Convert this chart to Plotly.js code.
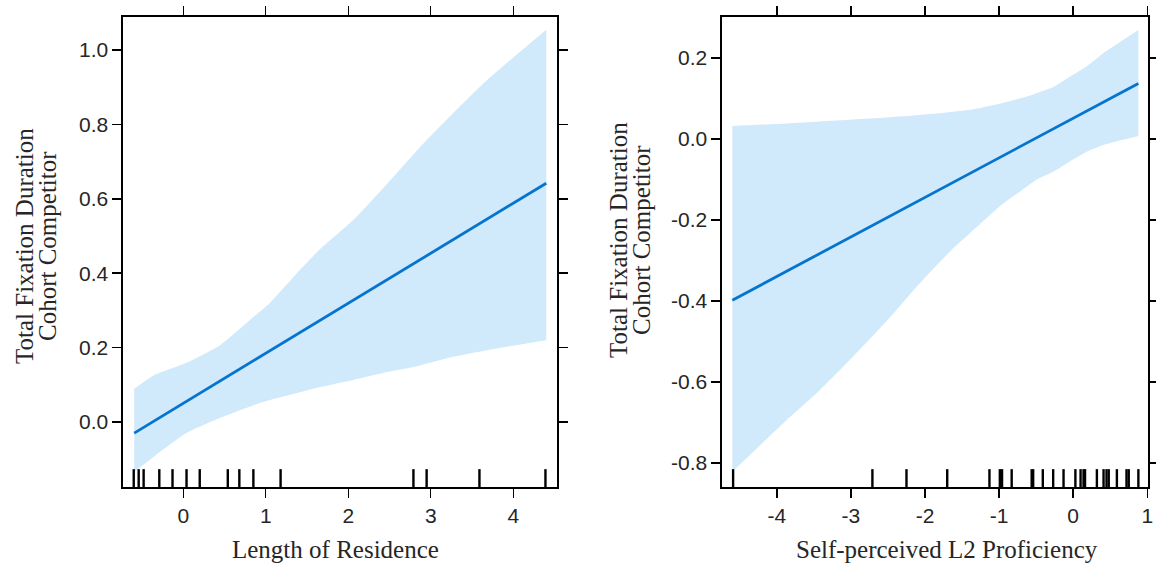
<!DOCTYPE html>
<html>
<head>
<meta charset="utf-8">
<script src="https://cdn.plot.ly/plotly-3.0.1.min.js"></script>
<style>html,body{margin:0;padding:0;background:#fff;}#chart{width:1156px;height:566px;}</style>
</head>
<body>
<div id="chart"></div>
<script>
// ---- Left panel: Length of Residence ----
const lorBandX     = [-0.594, -0.36, 0.04, 0.45, 0.85, 1.05, 1.45, 1.66, 2.06, 2.47, 2.87, 3.27, 3.68, 4.40];
const lorUpper     = [0.089, 0.125, 0.159, 0.207, 0.282, 0.32, 0.417, 0.465, 0.543, 0.64, 0.739, 0.83, 0.919, 1.055];
const lorLower     = [-0.134, -0.094, -0.03, 0.011, 0.045, 0.059, 0.082, 0.094, 0.113, 0.134, 0.152, 0.175, 0.193, 0.220];
const lorFitX      = [-0.594, 4.40];
const lorFit       = [-0.030, 0.642];
const lorRug       = [-0.60, -0.54, -0.48, -0.29, -0.13, 0.04, 0.20, 0.54, 0.68, 0.85, 1.18, 2.79, 2.95, 3.59, 4.39];
const lorTicksY    = [0.0, 0.2, 0.4, 0.6, 0.8, 1.0];
const lorTicksX    = [0, 1, 2, 3, 4];

// ---- Right panel: Self-perceived L2 Proficiency ----
const profBandX    = [-4.60, -3.87, -3.42, -2.97, -2.52, -2.07, -1.62, -1.39, -0.95, -0.72, -0.49, -0.27, -0.04, 0.19, 0.41, 0.88];
const profUpper    = [0.032, 0.038, 0.043, 0.048, 0.053, 0.059, 0.067, 0.072, 0.089, 0.100, 0.113, 0.128, 0.154, 0.180, 0.212, 0.269];
const profLower    = [-0.821, -0.694, -0.62, -0.537, -0.45, -0.356, -0.27, -0.232, -0.16, -0.130, -0.10, -0.081, -0.055, -0.031, -0.015, 0.007];
const profFitX     = [-4.60, 0.88];
const profFit      = [-0.398, 0.137];
const profRug      = [-4.59, -2.71, -2.25, -1.70, -1.13, -0.99, -0.96, -0.83, -0.56, -0.54, -0.41, -0.27, -0.13, 0.03, 0.10, 0.14, 0.16, 0.32, 0.41, 0.45, 0.48, 0.59, 0.72, 0.75, 0.88];
const profTicksY   = [-0.8, -0.6, -0.4, -0.2, 0.0, 0.2];
const profTicksX   = [-4, -3, -2, -1, 0, 1];

const yTitleLines = ['Total Fixation Duration', 'Cohort Competitor'];
const xTitleLeft = 'Length of Residence';
const xTitleRight = 'Self-perceived L2 Proficiency';

const bandColor = 'rgb(208,233,251)';
const lineColor = 'rgb(5,116,206)';

function band(xs, up, lo, xa, ya) {
  const base = {x: xs, xaxis: xa, yaxis: ya, type: 'scatter', mode: 'lines',
    hoverinfo: 'skip', showlegend: false};
  return [
    Object.assign({}, base, {y: lo, line: {width: 0, color: bandColor, shape: 'spline', smoothing: 0.6}}),
    Object.assign({}, base, {y: up, fill: 'tonexty', fillcolor: bandColor,
      line: {width: 0, color: bandColor, shape: 'spline', smoothing: 0.6}})
  ];
}
function fit(xs, ys, xa, ya) {
  return {x: xs, y: ys, xaxis: xa, yaxis: ya, type: 'scatter', mode: 'lines',
    line: {color: lineColor, width: 2.8}, showlegend: false};
}
function rugShapes(vals, xref, yref) {
  return vals.map(v => ({type: 'line', xref: xref, yref: yref + ' domain',
    x0: v, x1: v, y0: 0, y1: 0.038, line: {color: '#000', width: 2.4}}));
}

const tickFont = {family: 'Liberation Sans, Arial, sans-serif', size: 21, color: '#262626'};
const titleFont = {family: 'Liberation Serif, Times New Roman, serif', size: 25, color: '#262626'};

function xAxis(domain, range, ticks, anchor) {
  return {domain: domain, range: range, anchor: anchor, tickvals: ticks, ticktext: ticks.map(String),
    ticks: 'outside', ticklen: 9, tickwidth: 1.4, tickcolor: '#000', mirror: 'ticks',
    showline: true, linecolor: '#000', linewidth: 1.6, showgrid: false, zeroline: false,
    tickfont: tickFont};
}
function yAxis(domain, range, ticks, anchor) {
  return {domain: domain, range: range, anchor: anchor, tickvals: ticks, ticktext: ticks.map(v => v.toFixed(1)),
    ticks: 'outside', ticklen: 9, tickwidth: 1.4, tickcolor: '#000', mirror: 'ticks',
    showline: true, linecolor: '#000', linewidth: 1.6, showgrid: false, zeroline: false,
    tickfont: tickFont};
}

const W = 1156, H = 566;
const yDom = [(H - 487) / H, (H - 17) / H];

const data = [].concat(
  band(lorBandX, lorUpper, lorLower, 'x', 'y'),
  [fit(lorFitX, lorFit, 'x', 'y')],
  band(profBandX, profUpper, profLower, 'x2', 'y2'),
  [fit(profFitX, profFit, 'x2', 'y2')]
);

function ann(text, px, py, angle) {
  return {text: text, xref: 'paper', yref: 'paper', x: px / W, y: 1 - py / H,
    xanchor: 'center', yanchor: 'middle', showarrow: false, textangle: angle, font: titleFont};
}

const annotations = [
  ann(yTitleLines[0], 24, 246, -90),
  ann(yTitleLines[1], 47, 246, -90),
  ann(yTitleLines[0], 618, 240, -90),
  ann(yTitleLines[1], 641, 240, -90),
  ann(xTitleLeft, 335, 549, 0),
  ann(xTitleRight, 947, 549, 0)
];

const layout = {
  width: W, height: H,
  margin: {l: 0, r: 0, t: 0, b: 0},
  paper_bgcolor: '#fff', plot_bgcolor: '#fff',
  showlegend: false,
  xaxis: xAxis([123 / W, 557 / W], [-0.73, 4.53], lorTicksX, 'y'),
  yaxis: yAxis(yDom, [-0.175, 1.089], lorTicksY, 'x'),
  xaxis2: xAxis([722 / W, 1148 / W], [-4.74, 1.01], profTicksX, 'y2'),
  yaxis2: yAxis(yDom, [-0.859, 0.301], profTicksY, 'x2'),
  shapes: rugShapes(lorRug, 'x', 'y').concat(rugShapes(profRug, 'x2', 'y2')),
  annotations: annotations
};

Plotly.newPlot('chart', data, layout, {displayModeBar: false, staticPlot: true});
</script>
</body>
</html>
